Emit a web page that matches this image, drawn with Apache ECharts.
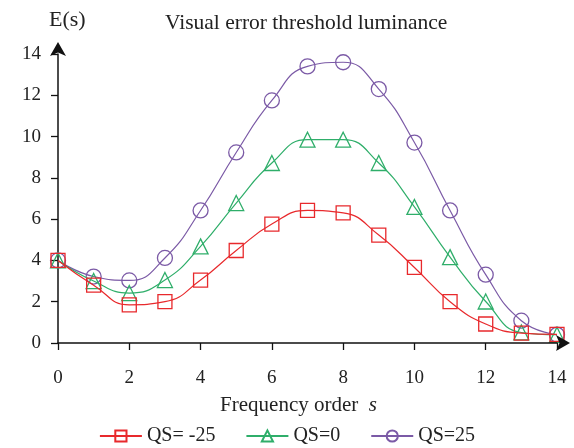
<!DOCTYPE html>
<html>
<head>
<meta charset="utf-8">
<script src="https://cdn.jsdelivr.net/npm/echarts@6/dist/echarts.min.js"></script>
<style>
    html, body { margin: 0; padding: 0; background: #fff; }
    #chart { width: 574px; height: 448px; }
</style>
</head>
<body>
<div id="chart"></div>
<script>
    // 频率阶数 s
    const orders = [0, 1, 2, 3, 4, 5, 6, 7, 8, 9, 10, 11, 12, 13, 14];
    const qsNeg25 = [4.0, 2.8, 1.85, 2.0, 3.05, 4.48, 5.76, 6.42, 6.3, 5.23, 3.66, 2.0, 0.92, 0.48, 0.42];
    const qs0 = [4.0, 3.0, 2.42, 3.05, 4.68, 6.78, 8.72, 9.85, 9.85, 8.72, 6.59, 4.16, 2.01, 0.51, 0.4];
    const qs25 = [4.0, 3.22, 3.03, 4.12, 6.42, 9.23, 11.75, 13.4, 13.6, 12.3, 9.71, 6.42, 3.31, 1.08, 0.4];
    const seriesNames = ['QS= -25', 'QS=0', 'QS=25'];

    const serif = 'Liberation Serif';
    const colors = ['#e8292c', '#2fae6a', '#7b5aa6'];
    const symbols = ['rect', 'triangle', 'circle'];
    const seriesData = [qsNeg25, qs0, qs25];

    const chart = echarts.init(document.getElementById('chart'));

    chart.setOption({
        animation: false,
        title: [
            {
                text: 'E(s)',
                left: 44,
                top: 4,
                textStyle: { fontFamily: serif, fontSize: 22, fontWeight: 'normal', color: '#222' }
            },
            {
                text: 'Visual error threshold luminance',
                left: 160,
                top: 7,
                textStyle: { fontFamily: serif, fontSize: 21.5, fontWeight: 'normal', color: '#222' }
            }
        ],
        grid: {
            left: 58,
            right: 17,
            top: 54,
            bottom: 105
        },
        legend: {
            left: 'center',
            top: 421,
            itemWidth: 42,
            itemHeight: 14,
            itemGap: 30,
            textStyle: { fontFamily: serif, fontSize: 20, color: '#222' },
            data: seriesNames
        },
        xAxis: {
            type: 'value',
            min: 0,
            max: 14,
            interval: 2,
            name: '{a|Frequency order  }{b|s}',
            nameLocation: 'middle',
            nameGap: 52,
            nameTextStyle: {
                padding: [0, 18, 0, 0],
                rich: {
                    a: { fontFamily: serif, fontSize: 21, color: '#222' },
                    b: { fontFamily: serif, fontSize: 21, fontStyle: 'italic', color: '#222' }
                }
            },
            axisLine: {
                lineStyle: { color: '#111', width: 1.5 },
                symbol: ['none', 'arrow'],
                symbolSize: [12, 14],
                symbolOffset: [0, 13]
            },
            axisTick: { length: 7, lineStyle: { color: '#111', width: 1.3 } },
            axisLabel: { margin: 26, fontFamily: serif, fontSize: 19, color: '#222' },
            splitLine: { show: false },
            z: 5
        },
        yAxis: {
            type: 'value',
            min: 0,
            max: 14,
            interval: 2,
            axisLine: {
                show: true,
                lineStyle: { color: '#111', width: 1.5 },
                symbol: ['none', 'arrow'],
                symbolSize: [12, 14],
                symbolOffset: [0, 12]
            },
            axisTick: { show: true, length: 7, lineStyle: { color: '#111', width: 1.3 } },
            axisLabel: { margin: 17, fontFamily: serif, fontSize: 19, color: '#222' },
            splitLine: { show: false }
        },
        series: seriesNames.map((name, i) => ({
            name: name,
            type: 'line',
            smooth: 0.5,
            data: orders.map((s, j) => [s, seriesData[i][j]]),
            symbol: symbols[i],
            symbolSize: i === 0 ? 14 : 15,
            lineStyle: { color: colors[i], width: 1.2 },
            itemStyle: { color: 'none', borderColor: colors[i], borderWidth: 1.3 },
            z: 3 - i
        }))
    });
</script>
</body>
</html>
